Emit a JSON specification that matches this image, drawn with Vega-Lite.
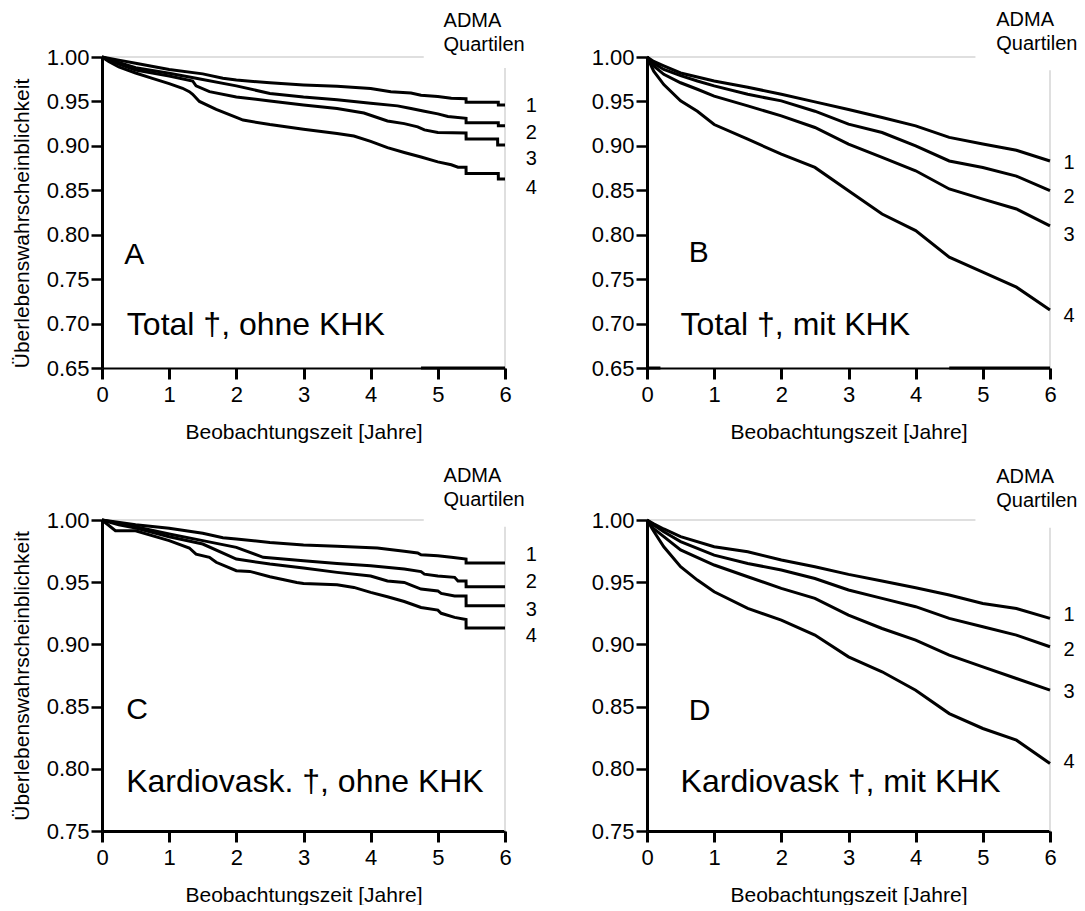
{
  "$schema": "https://vega.github.io/schema/vega-lite/v6.json",
  "background": "white",
  "padding": {"left": 11, "top": 10, "right": 0, "bottom": 0},
  "config": {
    "font": "Liberation Sans",
    "view": {"stroke": null},
    "axis": {"grid": false, "domainColor": "black", "tickColor": "black", "labelColor": "black", "titleColor": "black", "labelFont": "Liberation Sans", "titleFont": "Liberation Sans", "labelFontSize": 22, "titleFontSize": 21, "titleFontWeight": "normal", "tickSize": 11, "labelFlush": false, "labelOverlap": false},
    "axisX": {"domainWidth": 2, "tickWidth": 3, "labelPadding": 5, "titlePadding": 16},
    "axisY": {"domainWidth": 3, "tickWidth": 2.5, "labelPadding": 2, "titlePadding": 14},
    "text": {"font": "Liberation Sans", "color": "black"}
  },
  "datasets": {
    "A": [
      {"q":"1","t":0,"s":1},{"q":"1","t":0.25,"s":0.9965},{"q":"1","t":0.5,"s":0.993},{"q":"1","t":1,"s":0.986},{"q":"1","t":1.5,"s":0.981},{"q":"1","t":1.8,"s":0.976},{"q":"1","t":2,"s":0.974},{"q":"1","t":2.5,"s":0.971},{"q":"1","t":3,"s":0.9686},{"q":"1","t":3.5,"s":0.967},{"q":"1","t":4,"s":0.9645},{"q":"1","t":4.3,"s":0.961},{"q":"1","t":4.6,"s":0.9595},{"q":"1","t":4.75,"s":0.957},{"q":"1","t":5,"s":0.9555},{"q":"1","t":5.2,"s":0.9535},{"q":"1","t":5.42,"s":0.953},{"q":"1","t":5.421,"s":0.949},{"q":"1","t":5.9,"s":0.949},{"q":"1","t":5.901,"s":0.946},{"q":"1","t":6,"s":0.946},
      {"q":"2","t":0,"s":1},{"q":"2","t":0.25,"s":0.994},{"q":"2","t":0.5,"s":0.988},{"q":"2","t":1,"s":0.9817},{"q":"2","t":1.4,"s":0.976},{"q":"2","t":2,"s":0.9675},{"q":"2","t":2.5,"s":0.959},{"q":"2","t":3,"s":0.955},{"q":"2","t":3.5,"s":0.952},{"q":"2","t":4,"s":0.948},{"q":"2","t":4.4,"s":0.945},{"q":"2","t":4.6,"s":0.942},{"q":"2","t":4.8,"s":0.939},{"q":"2","t":5,"s":0.936},{"q":"2","t":5.15,"s":0.933},{"q":"2","t":5.42,"s":0.931},{"q":"2","t":5.421,"s":0.926},{"q":"2","t":5.9,"s":0.926},{"q":"2","t":5.901,"s":0.9225},{"q":"2","t":6,"s":0.9225},
      {"q":"3","t":0,"s":1},{"q":"3","t":0.25,"s":0.992},{"q":"3","t":0.5,"s":0.9854},{"q":"3","t":1,"s":0.9787},{"q":"3","t":1.35,"s":0.973},{"q":"3","t":1.4,"s":0.9675},{"q":"3","t":1.6,"s":0.961},{"q":"3","t":2,"s":0.955},{"q":"3","t":2.5,"s":0.9506},{"q":"3","t":3,"s":0.946},{"q":"3","t":3.5,"s":0.942},{"q":"3","t":3.9,"s":0.937},{"q":"3","t":4.25,"s":0.928},{"q":"3","t":4.5,"s":0.925},{"q":"3","t":4.7,"s":0.9214},{"q":"3","t":4.8,"s":0.918},{"q":"3","t":5,"s":0.915},{"q":"3","t":5.42,"s":0.9145},{"q":"3","t":5.421,"s":0.9077},{"q":"3","t":5.89,"s":0.9077},{"q":"3","t":5.891,"s":0.901},{"q":"3","t":6,"s":0.901},
      {"q":"4","t":0,"s":1},{"q":"4","t":0.1,"s":0.995},{"q":"4","t":0.25,"s":0.9888},{"q":"4","t":0.5,"s":0.982},{"q":"4","t":0.75,"s":0.976},{"q":"4","t":1,"s":0.97},{"q":"4","t":1.2,"s":0.9648},{"q":"4","t":1.3,"s":0.961},{"q":"4","t":1.35,"s":0.958},{"q":"4","t":1.45,"s":0.95},{"q":"4","t":1.7,"s":0.941},{"q":"4","t":2,"s":0.932},{"q":"4","t":2.1,"s":0.929},{"q":"4","t":2.5,"s":0.924},{"q":"4","t":3,"s":0.9188},{"q":"4","t":3.5,"s":0.914},{"q":"4","t":3.75,"s":0.911},{"q":"4","t":4,"s":0.905},{"q":"4","t":4.25,"s":0.898},{"q":"4","t":4.5,"s":0.8926},{"q":"4","t":4.75,"s":0.8875},{"q":"4","t":5,"s":0.882},{"q":"4","t":5.2,"s":0.8787},{"q":"4","t":5.3,"s":0.876},{"q":"4","t":5.42,"s":0.876},{"q":"4","t":5.421,"s":0.869},{"q":"4","t":5.9,"s":0.869},{"q":"4","t":5.901,"s":0.8627},{"q":"4","t":6,"s":0.8627}
    ],
    "B": [
      {"q":"1","t":0,"s":1},{"q":"1","t":0.1,"s":0.995},{"q":"1","t":0.25,"s":0.99},{"q":"1","t":0.5,"s":0.982},{"q":"1","t":0.75,"s":0.9775},{"q":"1","t":1,"s":0.973},{"q":"1","t":1.5,"s":0.966},{"q":"1","t":2,"s":0.958},{"q":"1","t":2.5,"s":0.9495},{"q":"1","t":3,"s":0.941},{"q":"1","t":3.5,"s":0.932},{"q":"1","t":4,"s":0.9225},{"q":"1","t":4.5,"s":0.9095},{"q":"1","t":5,"s":0.902},{"q":"1","t":5.5,"s":0.895},{"q":"1","t":6,"s":0.883},
      {"q":"2","t":0,"s":1},{"q":"2","t":0.1,"s":0.993},{"q":"2","t":0.25,"s":0.986},{"q":"2","t":0.5,"s":0.979},{"q":"2","t":0.75,"s":0.973},{"q":"2","t":1,"s":0.9675},{"q":"2","t":1.5,"s":0.958},{"q":"2","t":2,"s":0.9506},{"q":"2","t":2.5,"s":0.939},{"q":"2","t":3,"s":0.9244},{"q":"2","t":3.5,"s":0.915},{"q":"2","t":4,"s":0.9},{"q":"2","t":4.5,"s":0.883},{"q":"2","t":5,"s":0.8757},{"q":"2","t":5.5,"s":0.866},{"q":"2","t":6,"s":0.8495},
      {"q":"3","t":0,"s":1},{"q":"3","t":0.1,"s":0.99},{"q":"3","t":0.25,"s":0.9805},{"q":"3","t":0.5,"s":0.971},{"q":"3","t":0.75,"s":0.9637},{"q":"3","t":1,"s":0.956},{"q":"3","t":1.5,"s":0.945},{"q":"3","t":2,"s":0.9337},{"q":"3","t":2.5,"s":0.9207},{"q":"3","t":3,"s":0.902},{"q":"3","t":3.5,"s":0.887},{"q":"3","t":4,"s":0.872},{"q":"3","t":4.5,"s":0.8515},{"q":"3","t":5,"s":0.84},{"q":"3","t":5.5,"s":0.829},{"q":"3","t":6,"s":0.81},
      {"q":"4","t":0,"s":1},{"q":"4","t":0.1,"s":0.984},{"q":"4","t":0.25,"s":0.969},{"q":"4","t":0.5,"s":0.9506},{"q":"4","t":0.75,"s":0.939},{"q":"4","t":1,"s":0.924},{"q":"4","t":1.5,"s":0.9075},{"q":"4","t":2,"s":0.8907},{"q":"4","t":2.5,"s":0.8757},{"q":"4","t":3,"s":0.8495},{"q":"4","t":3.5,"s":0.8233},{"q":"4","t":4,"s":0.8046},{"q":"4","t":4.5,"s":0.7747},{"q":"4","t":5,"s":0.7579},{"q":"4","t":5.5,"s":0.741},{"q":"4","t":6,"s":0.7152}
    ],
    "C": [
      {"q":"1","t":0,"s":1},{"q":"1","t":0.5,"s":0.9962},{"q":"1","t":1,"s":0.9933},{"q":"1","t":1.5,"s":0.9893},{"q":"1","t":1.8,"s":0.9858},{"q":"1","t":2,"s":0.9847},{"q":"1","t":2.5,"s":0.982},{"q":"1","t":3,"s":0.98},{"q":"1","t":3.5,"s":0.9788},{"q":"1","t":4.1,"s":0.9775},{"q":"1","t":4.5,"s":0.9748},{"q":"1","t":4.7,"s":0.9735},{"q":"1","t":4.75,"s":0.972},{"q":"1","t":5,"s":0.9713},{"q":"1","t":5.2,"s":0.97},{"q":"1","t":5.42,"s":0.9686},{"q":"1","t":5.421,"s":0.9654},{"q":"1","t":6,"s":0.9654},
      {"q":"2","t":0,"s":1},{"q":"2","t":0.5,"s":0.9946},{"q":"2","t":1,"s":0.9887},{"q":"2","t":1.5,"s":0.9834},{"q":"2","t":2,"s":0.978},{"q":"2","t":2.4,"s":0.97},{"q":"2","t":3,"s":0.9673},{"q":"2","t":3.5,"s":0.965},{"q":"2","t":4,"s":0.9632},{"q":"2","t":4.5,"s":0.9606},{"q":"2","t":4.75,"s":0.9585},{"q":"2","t":4.8,"s":0.9565},{"q":"2","t":5,"s":0.955},{"q":"2","t":5.25,"s":0.9539},{"q":"2","t":5.3,"s":0.951},{"q":"2","t":5.42,"s":0.951},{"q":"2","t":5.421,"s":0.9464},{"q":"2","t":6,"s":0.9464},
      {"q":"3","t":0,"s":1},{"q":"3","t":0.25,"s":0.9962},{"q":"3","t":0.5,"s":0.9936},{"q":"3","t":1,"s":0.9866},{"q":"3","t":1.5,"s":0.9807},{"q":"3","t":2,"s":0.9686},{"q":"3","t":2.5,"s":0.9646},{"q":"3","t":3,"s":0.9614},{"q":"3","t":3.5,"s":0.9579},{"q":"3","t":4,"s":0.955},{"q":"3","t":4.25,"s":0.951},{"q":"3","t":4.5,"s":0.9498},{"q":"3","t":4.6,"s":0.9477},{"q":"3","t":4.75,"s":0.9445},{"q":"3","t":5,"s":0.943},{"q":"3","t":5.05,"s":0.941},{"q":"3","t":5.25,"s":0.939},{"q":"3","t":5.42,"s":0.939},{"q":"3","t":5.421,"s":0.931},{"q":"3","t":6,"s":0.931},
      {"q":"4","t":0,"s":1},{"q":"4","t":0.2,"s":0.9914},{"q":"4","t":0.5,"s":0.9914},{"q":"4","t":1,"s":0.9834},{"q":"4","t":1.3,"s":0.9775},{"q":"4","t":1.4,"s":0.9726},{"q":"4","t":1.6,"s":0.97},{"q":"4","t":1.7,"s":0.966},{"q":"4","t":2,"s":0.9592},{"q":"4","t":2.2,"s":0.9587},{"q":"4","t":2.5,"s":0.9544},{"q":"4","t":2.9,"s":0.9498},{"q":"4","t":3,"s":0.949},{"q":"4","t":3.5,"s":0.948},{"q":"4","t":3.75,"s":0.9458},{"q":"4","t":4,"s":0.9418},{"q":"4","t":4.25,"s":0.9383},{"q":"4","t":4.5,"s":0.9345},{"q":"4","t":4.75,"s":0.9297},{"q":"4","t":5,"s":0.9276},{"q":"4","t":5.05,"s":0.925},{"q":"4","t":5.25,"s":0.9217},{"q":"4","t":5.42,"s":0.92},{"q":"4","t":5.421,"s":0.9131},{"q":"4","t":6,"s":0.9131}
    ],
    "D": [
      {"q":"1","t":0,"s":1},{"q":"1","t":0.1,"s":0.997},{"q":"1","t":0.25,"s":0.9928},{"q":"1","t":0.5,"s":0.9866},{"q":"1","t":1,"s":0.9785},{"q":"1","t":1.5,"s":0.9745},{"q":"1","t":2,"s":0.9678},{"q":"1","t":2.5,"s":0.9624},{"q":"1","t":3,"s":0.9563},{"q":"1","t":3.5,"s":0.9509},{"q":"1","t":4,"s":0.9455},{"q":"1","t":4.5,"s":0.9397},{"q":"1","t":5,"s":0.9329},{"q":"1","t":5.5,"s":0.9289},{"q":"1","t":6,"s":0.9209},
      {"q":"2","t":0,"s":1},{"q":"2","t":0.1,"s":0.996},{"q":"2","t":0.25,"s":0.9906},{"q":"2","t":0.5,"s":0.9826},{"q":"2","t":1,"s":0.9718},{"q":"2","t":1.5,"s":0.9651},{"q":"2","t":2,"s":0.9598},{"q":"2","t":2.5,"s":0.953},{"q":"2","t":3,"s":0.9437},{"q":"2","t":3.5,"s":0.937},{"q":"2","t":4,"s":0.9303},{"q":"2","t":4.5,"s":0.9209},{"q":"2","t":5,"s":0.9142},{"q":"2","t":5.5,"s":0.9075},{"q":"2","t":6,"s":0.8981},
      {"q":"3","t":0,"s":1},{"q":"3","t":0.1,"s":0.993},{"q":"3","t":0.25,"s":0.9866},{"q":"3","t":0.5,"s":0.9759},{"q":"3","t":1,"s":0.9638},{"q":"3","t":1.5,"s":0.9544},{"q":"3","t":2,"s":0.945},{"q":"3","t":2.5,"s":0.937},{"q":"3","t":3,"s":0.9236},{"q":"3","t":3.5,"s":0.9128},{"q":"3","t":4,"s":0.9034},{"q":"3","t":4.5,"s":0.8914},{"q":"3","t":5,"s":0.882},{"q":"3","t":5.5,"s":0.8726},{"q":"3","t":6,"s":0.8632},
      {"q":"4","t":0,"s":1},{"q":"4","t":0.1,"s":0.991},{"q":"4","t":0.25,"s":0.9785},{"q":"4","t":0.5,"s":0.9624},{"q":"4","t":0.75,"s":0.9517},{"q":"4","t":1,"s":0.9423},{"q":"4","t":1.5,"s":0.9289},{"q":"4","t":2,"s":0.9195},{"q":"4","t":2.5,"s":0.9075},{"q":"4","t":3,"s":0.89},{"q":"4","t":3.5,"s":0.878},{"q":"4","t":4,"s":0.8632},{"q":"4","t":4.5,"s":0.8444},{"q":"4","t":5,"s":0.8324},{"q":"4","t":5.5,"s":0.823},{"q":"4","t":6,"s":0.8042}
    ]
  },
  "columns": 2,
  "spacing": {"row": 152, "column": 142},
  "bounds": "flush",
  "concat": [
    {
      "width": 403, "height": 311,
      "layer": [
        {"data": {"values": [{}]}, "mark": {"type": "rule", "color": "#d4d4d4", "strokeWidth": 1.5}, "encoding": {"x": {"datum": 0, "type": "quantitative"}, "x2": {"datum": 4.79}, "y": {"datum": 1, "type": "quantitative"}}},
        {"data": {"values": [{}]}, "mark": {"type": "rule", "color": "#d4d4d4", "strokeWidth": 1.5}, "encoding": {"x": {"datum": 6, "type": "quantitative"}, "y": {"datum": 0.65, "type": "quantitative"}, "y2": {"datum": 0.9876}}},
        {"data": {"values": [{}]}, "mark": {"type": "rule", "color": "black", "strokeWidth": 3}, "encoding": {"x": {"datum": 4.75, "type": "quantitative"}, "x2": {"datum": 6}, "y": {"datum": 0.65, "type": "quantitative"}}},
        {"data": {"name": "A"}, "mark": {"type": "line", "color": "black", "strokeWidth": 3},
         "encoding": {
           "x": {"field": "t", "type": "quantitative", "scale": {"domain": [0, 6], "nice": false}, "axis": {"values": [0,1,2,3,4,5,6], "format": "d", "title": "Beobachtungszeit [Jahre]"}},
           "y": {"field": "s", "type": "quantitative", "scale": {"domain": [0.65, 1], "nice": false, "zero": false}, "axis": {"values": [0.65,0.7,0.75,0.8,0.85,0.9,0.95,1], "format": ".2f", "title": "Überlebenswahrscheinblichkeit", "titleY": 166}},
           "detail": {"field": "q"}}},
        {"data": {"values": [{}]}, "mark": {"type": "text", "text": "A", "fontSize": 30, "align": "left", "baseline": "alphabetic"}, "encoding": {"x": {"datum": 0.33, "type": "quantitative"}, "y": {"datum": 0.767, "type": "quantitative"}}},
        {"data": {"values": [{}]}, "mark": {"type": "text", "text": "Total †, ohne KHK", "fontSize": 32, "align": "left", "baseline": "alphabetic"}, "encoding": {"x": {"datum": 0.37, "type": "quantitative"}, "y": {"datum": 0.687, "type": "quantitative"}}},
        {"data": {"values": [{}]}, "mark": {"type": "text", "text": ["ADMA", "Quartilen"], "lineHeight": 24, "fontSize": 20, "align": "left", "baseline": "alphabetic"}, "encoding": {"x": {"datum": 5.085, "type": "quantitative"}, "y": {"datum": 1.0332, "type": "quantitative"}}},
        {"data": {"values": [{}]}, "mark": {"type": "text", "text": "1", "fontSize": 20, "align": "left", "baseline": "middle"}, "encoding": {"x": {"datum": 6.31, "type": "quantitative"}, "y": {"datum": 0.945, "type": "quantitative"}}},
        {"data": {"values": [{}]}, "mark": {"type": "text", "text": "2", "fontSize": 20, "align": "left", "baseline": "middle"}, "encoding": {"x": {"datum": 6.31, "type": "quantitative"}, "y": {"datum": 0.915, "type": "quantitative"}}},
        {"data": {"values": [{}]}, "mark": {"type": "text", "text": "3", "fontSize": 20, "align": "left", "baseline": "middle"}, "encoding": {"x": {"datum": 6.31, "type": "quantitative"}, "y": {"datum": 0.885, "type": "quantitative"}}},
        {"data": {"values": [{}]}, "mark": {"type": "text", "text": "4", "fontSize": 20, "align": "left", "baseline": "middle"}, "encoding": {"x": {"datum": 6.31, "type": "quantitative"}, "y": {"datum": 0.853, "type": "quantitative"}}}
      ]
    },
    {
      "width": 403, "height": 311,
      "layer": [
        {"data": {"values": [{}]}, "mark": {"type": "rule", "color": "#d4d4d4", "strokeWidth": 1.5}, "encoding": {"x": {"datum": 0, "type": "quantitative"}, "x2": {"datum": 4.89}, "y": {"datum": 1, "type": "quantitative"}}},
        {"data": {"values": [{}]}, "mark": {"type": "rule", "color": "#d4d4d4", "strokeWidth": 1.5}, "encoding": {"x": {"datum": 6, "type": "quantitative"}, "y": {"datum": 0.65, "type": "quantitative"}, "y2": {"datum": 0.985}}},
        {"data": {"values": [{}]}, "mark": {"type": "rule", "color": "black", "strokeWidth": 3}, "encoding": {"x": {"datum": 4.5, "type": "quantitative"}, "x2": {"datum": 6}, "y": {"datum": 0.65, "type": "quantitative"}}},
        {"data": {"values": [{}]}, "mark": {"type": "rule", "color": "black", "strokeWidth": 3}, "encoding": {"x": {"datum": 0, "type": "quantitative"}, "x2": {"datum": 0.2}, "y": {"datum": 0.65, "type": "quantitative"}}},
        {"data": {"name": "B"}, "mark": {"type": "line", "color": "black", "strokeWidth": 3},
         "encoding": {
           "x": {"field": "t", "type": "quantitative", "scale": {"domain": [0, 6], "nice": false}, "axis": {"values": [0,1,2,3,4,5,6], "format": "d", "title": "Beobachtungszeit [Jahre]"}},
           "y": {"field": "s", "type": "quantitative", "scale": {"domain": [0.65, 1], "nice": false, "zero": false}, "axis": {"values": [0.65,0.7,0.75,0.8,0.85,0.9,0.95,1], "format": ".2f", "title": null}},
           "detail": {"field": "q"}}},
        {"data": {"values": [{}]}, "mark": {"type": "text", "text": "B", "fontSize": 30, "align": "left", "baseline": "alphabetic"}, "encoding": {"x": {"datum": 0.62, "type": "quantitative"}, "y": {"datum": 0.769, "type": "quantitative"}}},
        {"data": {"values": [{}]}, "mark": {"type": "text", "text": "Total †, mit KHK", "fontSize": 32, "align": "left", "baseline": "alphabetic"}, "encoding": {"x": {"datum": 0.5, "type": "quantitative"}, "y": {"datum": 0.687, "type": "quantitative"}}},
        {"data": {"values": [{}]}, "mark": {"type": "text", "text": ["ADMA", "Quartilen"], "lineHeight": 24, "fontSize": 20, "align": "left", "baseline": "alphabetic"}, "encoding": {"x": {"datum": 5.2, "type": "quantitative"}, "y": {"datum": 1.0345, "type": "quantitative"}}},
        {"data": {"values": [{}]}, "mark": {"type": "text", "text": "1", "fontSize": 20, "align": "left", "baseline": "middle"}, "encoding": {"x": {"datum": 6.2, "type": "quantitative"}, "y": {"datum": 0.881, "type": "quantitative"}}},
        {"data": {"values": [{}]}, "mark": {"type": "text", "text": "2", "fontSize": 20, "align": "left", "baseline": "middle"}, "encoding": {"x": {"datum": 6.2, "type": "quantitative"}, "y": {"datum": 0.842, "type": "quantitative"}}},
        {"data": {"values": [{}]}, "mark": {"type": "text", "text": "3", "fontSize": 20, "align": "left", "baseline": "middle"}, "encoding": {"x": {"datum": 6.2, "type": "quantitative"}, "y": {"datum": 0.8, "type": "quantitative"}}},
        {"data": {"values": [{}]}, "mark": {"type": "text", "text": "4", "fontSize": 20, "align": "left", "baseline": "middle"}, "encoding": {"x": {"datum": 6.2, "type": "quantitative"}, "y": {"datum": 0.709, "type": "quantitative"}}}
      ]
    },
    {
      "width": 403, "height": 311,
      "layer": [
        {"data": {"values": [{}]}, "mark": {"type": "rule", "color": "#d4d4d4", "strokeWidth": 1.5}, "encoding": {"x": {"datum": 0, "type": "quantitative"}, "x2": {"datum": 4.79}, "y": {"datum": 1, "type": "quantitative"}}},
        {"data": {"values": [{}]}, "mark": {"type": "rule", "color": "#d4d4d4", "strokeWidth": 1.5}, "encoding": {"x": {"datum": 6, "type": "quantitative"}, "y": {"datum": 0.75, "type": "quantitative"}, "y2": {"datum": 0.9946}}},
        {"data": {"name": "C"}, "mark": {"type": "line", "color": "black", "strokeWidth": 3},
         "encoding": {
           "x": {"field": "t", "type": "quantitative", "scale": {"domain": [0, 6], "nice": false}, "axis": {"values": [0,1,2,3,4,5,6], "format": "d", "title": "Beobachtungszeit [Jahre]", "domainWidth": 3}},
           "y": {"field": "s", "type": "quantitative", "scale": {"domain": [0.75, 1], "nice": false, "zero": false}, "axis": {"values": [0.75,0.8,0.85,0.9,0.95,1], "format": ".2f", "title": "Überlebenswahrscheinblichkeit"}},
           "detail": {"field": "q"}}},
        {"data": {"values": [{}]}, "mark": {"type": "text", "text": "C", "fontSize": 30, "align": "left", "baseline": "alphabetic"}, "encoding": {"x": {"datum": 0.36, "type": "quantitative"}, "y": {"datum": 0.84, "type": "quantitative"}}},
        {"data": {"values": [{}]}, "mark": {"type": "text", "text": "Kardiovask. †, ohne KHK", "fontSize": 32, "align": "left", "baseline": "alphabetic"}, "encoding": {"x": {"datum": 0.36, "type": "quantitative"}, "y": {"datum": 0.781, "type": "quantitative"}}},
        {"data": {"values": [{}]}, "mark": {"type": "text", "text": ["ADMA", "Quartilen"], "lineHeight": 24, "fontSize": 20, "align": "left", "baseline": "alphabetic"}, "encoding": {"x": {"datum": 5.085, "type": "quantitative"}, "y": {"datum": 1.0303, "type": "quantitative"}}},
        {"data": {"values": [{}]}, "mark": {"type": "text", "text": "1", "fontSize": 20, "align": "left", "baseline": "middle"}, "encoding": {"x": {"datum": 6.31, "type": "quantitative"}, "y": {"datum": 0.972, "type": "quantitative"}}},
        {"data": {"values": [{}]}, "mark": {"type": "text", "text": "2", "fontSize": 20, "align": "left", "baseline": "middle"}, "encoding": {"x": {"datum": 6.31, "type": "quantitative"}, "y": {"datum": 0.95, "type": "quantitative"}}},
        {"data": {"values": [{}]}, "mark": {"type": "text", "text": "3", "fontSize": 20, "align": "left", "baseline": "middle"}, "encoding": {"x": {"datum": 6.31, "type": "quantitative"}, "y": {"datum": 0.928, "type": "quantitative"}}},
        {"data": {"values": [{}]}, "mark": {"type": "text", "text": "4", "fontSize": 20, "align": "left", "baseline": "middle"}, "encoding": {"x": {"datum": 6.31, "type": "quantitative"}, "y": {"datum": 0.907, "type": "quantitative"}}}
      ]
    },
    {
      "width": 403, "height": 311,
      "layer": [
        {"data": {"values": [{}]}, "mark": {"type": "rule", "color": "#d4d4d4", "strokeWidth": 1.5}, "encoding": {"x": {"datum": 0, "type": "quantitative"}, "x2": {"datum": 4.89}, "y": {"datum": 1, "type": "quantitative"}}},
        {"data": {"values": [{}]}, "mark": {"type": "rule", "color": "#d4d4d4", "strokeWidth": 1.5}, "encoding": {"x": {"datum": 6, "type": "quantitative"}, "y": {"datum": 0.75, "type": "quantitative"}, "y2": {"datum": 0.9938}}},
        {"data": {"name": "D"}, "mark": {"type": "line", "color": "black", "strokeWidth": 3},
         "encoding": {
           "x": {"field": "t", "type": "quantitative", "scale": {"domain": [0, 6], "nice": false}, "axis": {"values": [0,1,2,3,4,5,6], "format": "d", "title": "Beobachtungszeit [Jahre]", "domainWidth": 3}},
           "y": {"field": "s", "type": "quantitative", "scale": {"domain": [0.75, 1], "nice": false, "zero": false}, "axis": {"values": [0.75,0.8,0.85,0.9,0.95,1], "format": ".2f", "title": null}},
           "detail": {"field": "q"}}},
        {"data": {"values": [{}]}, "mark": {"type": "text", "text": "D", "fontSize": 30, "align": "left", "baseline": "alphabetic"}, "encoding": {"x": {"datum": 0.62, "type": "quantitative"}, "y": {"datum": 0.839, "type": "quantitative"}}},
        {"data": {"values": [{}]}, "mark": {"type": "text", "text": "Kardiovask †, mit KHK", "fontSize": 32, "align": "left", "baseline": "alphabetic"}, "encoding": {"x": {"datum": 0.5, "type": "quantitative"}, "y": {"datum": 0.7814, "type": "quantitative"}}},
        {"data": {"values": [{}]}, "mark": {"type": "text", "text": ["ADMA", "Quartilen"], "lineHeight": 24, "fontSize": 20, "align": "left", "baseline": "alphabetic"}, "encoding": {"x": {"datum": 5.2, "type": "quantitative"}, "y": {"datum": 1.0295, "type": "quantitative"}}},
        {"data": {"values": [{}]}, "mark": {"type": "text", "text": "1", "fontSize": 20, "align": "left", "baseline": "middle"}, "encoding": {"x": {"datum": 6.2, "type": "quantitative"}, "y": {"datum": 0.9236, "type": "quantitative"}}},
        {"data": {"values": [{}]}, "mark": {"type": "text", "text": "2", "fontSize": 20, "align": "left", "baseline": "middle"}, "encoding": {"x": {"datum": 6.2, "type": "quantitative"}, "y": {"datum": 0.8954, "type": "quantitative"}}},
        {"data": {"values": [{}]}, "mark": {"type": "text", "text": "3", "fontSize": 20, "align": "left", "baseline": "middle"}, "encoding": {"x": {"datum": 6.2, "type": "quantitative"}, "y": {"datum": 0.862, "type": "quantitative"}}},
        {"data": {"values": [{}]}, "mark": {"type": "text", "text": "4", "fontSize": 20, "align": "left", "baseline": "middle"}, "encoding": {"x": {"datum": 6.2, "type": "quantitative"}, "y": {"datum": 0.8055, "type": "quantitative"}}}
      ]
    }
  ]
}
